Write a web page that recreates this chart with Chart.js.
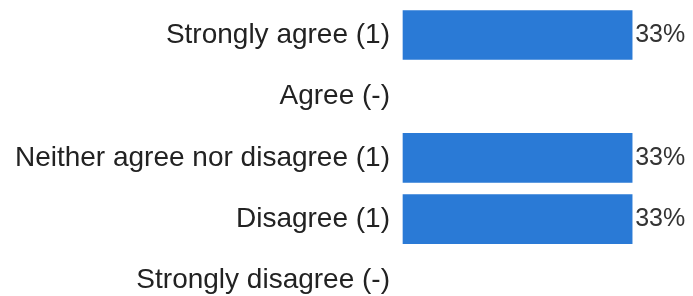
<!DOCTYPE html>
<html>
<head>
<meta charset="utf-8">
<script src="https://cdn.jsdelivr.net/npm/chart.js@4"></script>
<style>
  html, body { margin: 0; padding: 0; background: #fff; }
  #wrap { width: 693px; height: 296px; }
</style>
</head>
<body>
<div id="wrap"><canvas id="chart" width="693" height="296"></canvas></div>
<script>
// Réponses et pourcentages
const categories = ['Strongly agree (1)', 'Agree (-)', 'Neither agree nor disagree (1)', 'Disagree (1)', 'Strongly disagree (-)'];
const percents = [33.33, 0, 33.33, 33.33, 0];
const valueLabels = ['33%', '', '33%', '33%', ''];

const barColor = '#2a7ad6';

// étiquettes de valeur à droite des barres
const valueLabelPlugin = {
    id: 'valueLabels',
    afterDatasetsDraw(chart) {
        const ctx = chart.ctx;
        const meta = chart.getDatasetMeta(0);
        ctx.save();
        ctx.font = '25px "Liberation Sans", Arial, sans-serif';
        ctx.fillStyle = '#333';
        ctx.textBaseline = 'alphabetic';
        meta.data.forEach((bar, i) => {
            if (!valueLabels[i]) return;
            ctx.fillText(valueLabels[i], bar.x + 3, bar.y + 7);
        });
        ctx.restore();
    }
};

new Chart(document.getElementById('chart'), {
    type: 'bar',
    data: {
        labels: categories,
        datasets: [{
            data: percents,
            backgroundColor: ctx => ctx.raw > 0 ? barColor : 'rgba(0,0,0,0)',
            borderWidth: 0,
            barThickness: 49,
            clip: false
        }]
    },
    options: {
        indexAxis: 'y',
        responsive: false,
        animation: false,
        layout: {padding: {top: 35, bottom: 0, right: 15, left: 0}},
        plugins: {legend: {display: false}, tooltip: {enabled: false}},
        scales: {
            x: {display: false, min: 0, max: 40},
            y: {
                offset: false,
                grid: {display: false, drawTicks: true, tickLength: 13},
                border: {display: false},
                ticks: {
                    color: '#222',
                    padding: 0,
                    font: {size: 28, lineHeight: 1.1, family: '"Liberation Sans", Arial, sans-serif'}
                },
                afterFit(scale) { scale.width = 403; }
            }
        }
    },
    plugins: [valueLabelPlugin]
});
</script>
</body>
</html>
